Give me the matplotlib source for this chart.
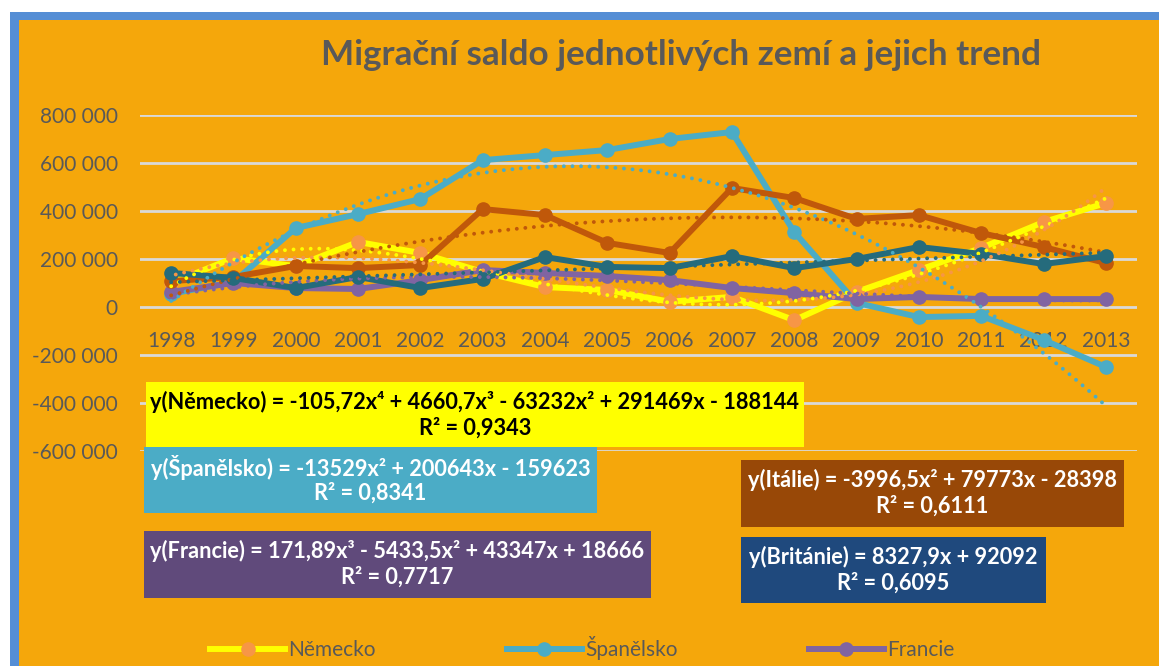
import numpy as np
import matplotlib.pyplot as plt
from matplotlib.patches import Rectangle

# data
years = [str(y) for y in range(1998, 2014)]
nemecko = [100000, 204000, 170000, 271000, 225000, 146000, 83000, 71000,
           22000, 42000, -55000, 63000, 154000, 246000, 354000, 433000]
spanelsko = [55000, 104000, 329000, 387000, 450000, 612000, 633000, 654000,
             700000, 729000, 312000, 17000, -42000, -37000, -137000, -250000]
francie = [63000, 100000, 79000, 75000, 112000, 154000, 142000, 129000,
           112000, 79000, 58000, 33000, 42000, 33000, 33000, 33000]
italie = [108000, 125000, 171000, 162000, 175000, 408000, 383000, 267000,
          225000, 496000, 454000, 367000, 383000, 308000, 250000, 183000]
britanie = [142000, 121000, 79000, 125000, 79000, 117000, 208000, 167000,
            162000, 212000, 162000, 200000, 250000, 221000, 179000, 212000]

equations = [
    ("y(Německo) = -105,72x⁴ + 4660,7x³ - 63232x² + 291469x - 188144", "R² = 0,9343"),
    ("y(Španělsko) = -13529x² + 200643x - 159623", "R² = 0,8341"),
    ("y(Francie) = 171,89x³ - 5433,5x² + 43347x + 18666", "R² = 0,7717"),
    ("y(Itálie) = -3996,5x² + 79773x - 28398", "R² = 0,6111"),
    ("y(Británie) = 8327,9x + 92092", "R² = 0,6095"),
]

BG = '#F5A70B'
GRAY = '#595959'
plt.rcParams['font.family'] = ['Lato', 'DejaVu Sans']

W, H = 1159, 666
fig = plt.figure(figsize=(W / 100, H / 100), dpi=100)
fig.patch.set_facecolor('white')


def px_rect(x0, y0, x1, y1, color, z=0):
    # rectangle given in picture pixels (top-left origin)
    r = Rectangle((x0 / W, 1 - y1 / H), (x1 - x0) / W, (y1 - y0) / H,
                  transform=fig.transFigure, facecolor=color, edgecolor='none',
                  zorder=z)
    fig.add_artist(r)


# chart area with blue frame
px_rect(10, 12, 1200, 700, '#558ED5', z=-10)
px_rect(19, 20, 1200, 700, BG, z=-9)

ax = fig.add_axes([140 / W, 1 - 451 / H, 997 / W, 336 / H])
ax.set_facecolor('none')
x = np.arange(len(years))

series = [
    ('Německo', nemecko, '#FFFF00', '#F79646', 4),
    ('Španělsko', spanelsko, '#4BACC6', '#4BACC6', 2),
    ('Francie', francie, '#8064A2', '#8064A2', 3),
    ('Itálie', italie, '#C0580A', '#C0580A', 2),
    ('Británie', britanie, '#256B7C', '#256B7C', 1),
]

handles = []
xf = np.linspace(0, len(years) - 1, 200)
for name, vals, lc, mc, deg in series:
    h, = ax.plot(x, vals, color=lc, lw=4.3, marker='o', ms=9.5,
                 markerfacecolor=mc, markeredgecolor=mc, label=name,
                 solid_joinstyle='round', zorder=3)
    handles.append(h)
    coef = np.polyfit(x + 1, vals, deg)
    ax.plot(xf, np.polyval(coef, xf + 1), color=lc, lw=2.8,
            linestyle=(0, (0.01, 2.2)), dash_capstyle='round', zorder=4)
    if name == 'Německo':
        coef3 = np.polyfit(x + 1, vals, 3)
        ax.plot(xf, np.polyval(coef3, xf + 1), color=mc, lw=2.8,
                linestyle=(1, (0.01, 2.2)), dash_capstyle='round', zorder=4)

ax.set_xlim(-0.5, len(years) - 0.5)
ax.set_ylim(-600000, 800000)
ax.set_yticks(np.arange(-600000, 800001, 200000))
ax.set_yticklabels([f"{v:,}".replace(',', ' ') for v in range(-600000, 800001, 200000)])
ax.set_xticks(x)
ax.set_xticklabels(years)
ax.grid(axis='y', color='#D9D9D9', lw=2)
ax.set_axisbelow(True)
for s in ax.spines.values():
    s.set_visible(False)
ax.spines['bottom'].set_position(('data', 0))
ax.tick_params(axis='both', length=0, labelsize=15, labelcolor=GRAY)
ax.tick_params(axis='x', pad=17)
ax.tick_params(axis='y', pad=16)

fig.text(681 / W, 1 - 55 / H, 'Migrační saldo jednotlivých zemí a jejich trend',
         ha='center', va='center', fontsize=25.3, fontweight='bold', color=GRAY)

# equation boxes
boxes = [
    (146, 382, 804, 447, '#FFFF00', 'black'),
    (144, 447, 597, 513, '#4BACC6', 'white'),
    (144, 531, 651, 598, '#604A7B', 'white'),
    (741, 460, 1124, 527, '#984807', 'white'),
    (741, 537, 1046, 603, '#1F497D', 'white'),
]
for (x0, y0, x1, y1, fc, tc), (l1, l2) in zip(boxes, equations):
    px_rect(x0, y0, x1, y1, fc, z=5)
    cx = (x0 + x1) / 2 / W
    fig.text(cx, 1 - (y0 + 20) / H, l1, ha='center', va='center', fontsize=15.7,
             fontweight='bold', color=tc, zorder=6)
    fig.text(cx, 1 - (y0 + 46) / H, l2, ha='center', va='center', fontsize=15.7,
             fontweight='bold', color=tc, zorder=6)

fig.legend(handles=handles[:3], loc='center left', ncol=3, frameon=False,
           bbox_to_anchor=(210 / W, 1 - 648 / H), bbox_transform=fig.transFigure,
           fontsize=15, labelcolor=GRAY, handlelength=3.6, handletextpad=0.15,
           columnspacing=6.3, borderpad=0, borderaxespad=0)

fig.savefig('out.png', dpi=100, facecolor=fig.get_facecolor())
